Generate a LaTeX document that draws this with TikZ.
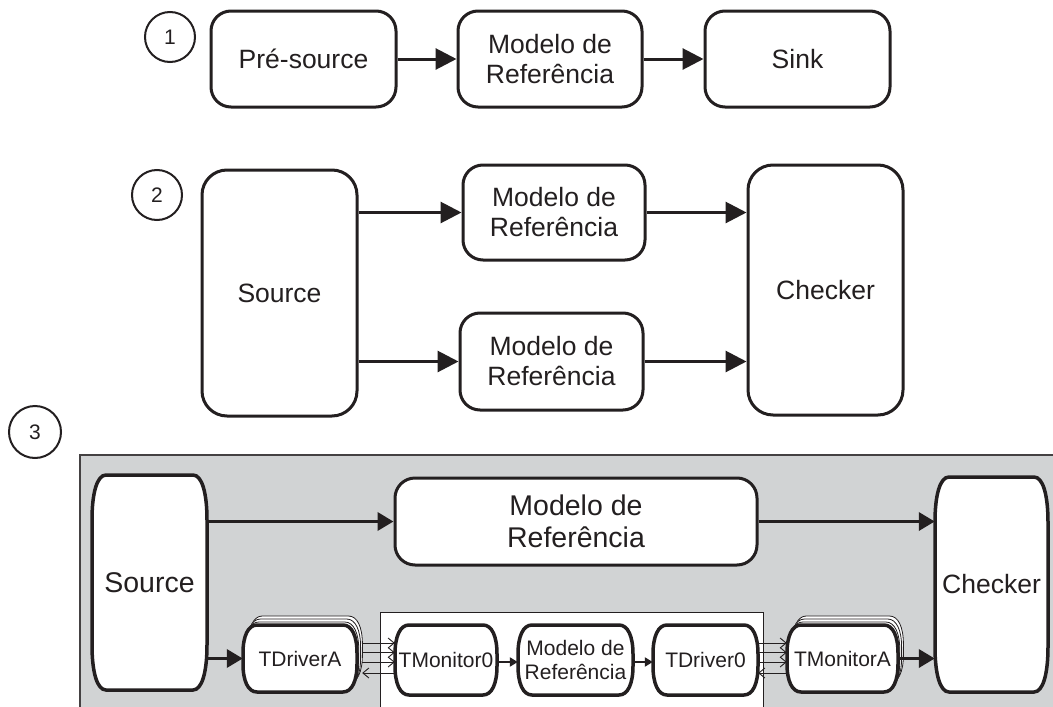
\documentclass[tikz,border=0pt]{standalone}
\usepackage{fontspec}
\setmainfont{Liberation Sans}
\usetikzlibrary{arrows.meta,calc}
\definecolor{ink}{HTML}{231F20}
\definecolor{panel}{HTML}{D1D3D4}

\newcommand\txtL{\fontsize{26.5}{30}\selectfont}
\newcommand\txtXL{\fontsize{28.5}{32}\selectfont}
\newcommand\txtS{\fontsize{21}{24.5}\selectfont}

% barrel outline: style, x0, y0, x1, y1, vertical extent of the curved corners
\newcommand\barrel[6]{%
  \path[#1] (#2+14,#3) -- (#4-14,#3)
    .. controls (#4-5,#3) and (#4,#3+0.4*#6) .. (#4,#3+#6)
    -- (#4,#5-#6)
    .. controls (#4,#5-0.4*#6) and (#4-5,#5) .. (#4-14,#5)
    -- (#2+14,#5)
    .. controls (#2+5,#5) and (#2,#5-0.4*#6) .. (#2,#5-#6)
    -- (#2,#3+#6)
    .. controls (#2,#3+0.4*#6) and (#2+5,#3) .. (#2+14,#3) -- cycle;}

% barrel node: name, x0, y0, x1, y1, corner extent, font, text
\newcommand\barrelnode[8]{%
  \barrel{outline}{#2}{#3}{#4}{#5}{#6}
  \node[inner sep=0, text=ink, align=center, font=#7,
        minimum width=#4-#2, minimum height=#5-#3]
    (#1) at ({(#2+#4)/2},{(#3+#5)/2}) {#8};}

\tikzset{
  outline/.style={draw=ink, line width=3.5pt, fill=white},
  stack/.style={draw=ink, line width=0.8pt, fill=white},
  rbox/.style={draw=ink, line width=3pt, fill=white, rounded corners=20pt,
               inner sep=0, text=ink, align=center, font=\txtL},
  num/.style={circle, draw=ink, line width=2pt, minimum size=50pt, inner sep=0,
              text=ink, font=\txtS},
  flow/.style={draw=ink, line width=3pt, -{Triangle[length=21pt,width=21pt]}},
  flowb/.style={draw=ink, line width=3.5pt, -{Triangle[length=16pt,width=18pt]}},
  flows/.style={draw=ink, line width=2pt, -{Triangle[length=8pt,width=9pt]}},
  bus/.style={draw=ink, line width=0.9pt, -{Straight Barb[length=6pt,width=10pt]}},
}

\begin{document}
\begin{tikzpicture}[x=1pt,y=-1pt]
\useasboundingbox (0,0) rectangle (1053,707);

% ---------- 1: pre-source, reference model, sink ----------
\node[num] (n1) at (170,37) {1};
\node[rbox, minimum width=185, minimum height=96] (pre)  at (303.5,59) {Pré-source};
\node[rbox, minimum width=184, minimum height=96] (mod1) at (550,59)   {Modelo de\\Referência};
\node[rbox, minimum width=185, minimum height=96] (sink) at (797.5,59) {Sink};
\draw[flow] (pre) -- (mod1);
\draw[flow] (mod1) -- (sink);

% ---------- 2: source, two reference models, checker ----------
\node[num] (n2) at (157,195) {2};
\node[rbox, rounded corners=25pt, minimum width=155, minimum height=246] (src2) at (279.5,293) {Source};
\node[rbox, minimum width=182, minimum height=95] (modA) at (554,212.5) {Modelo de\\Referência};
\node[rbox, minimum width=183, minimum height=97] (modB) at (551.5,361.5) {Modelo de\\Referência};
\node[rbox, rounded corners=25pt, minimum width=155, minimum height=250] (chk2) at (825.5,290) {Checker};
\draw[flow] (src2.east |- modA.west) -- (modA.west);
\draw[flow] (src2.east |- modB.west) -- (modB.west);
\draw[flow] (modA.east) -- (chk2.west |- modA.east);
\draw[flow] (modB.east) -- (chk2.west |- modB.east);

% ---------- 3: testbench with translators ----------
\node[num, minimum size=52pt] (n3) at (35,432) {3};

% grey testbench area and white inner region
\fill[panel] (80,455) rectangle (1053,707);
\draw[ink!85, line width=1.5pt] (80,707) -- (80,455) -- (1053,455);
\fill[white] (380,612) rectangle (763,707);
\draw[ink, line width=1pt] (380,707) -- (380,612) -- (763,612) -- (763,707);

% bus lines between translators
\coordinate (b1) at (0,643);
\coordinate (b2) at (0,652.5);
\coordinate (b3) at (0,662);
\coordinate (b4) at (0,673);

\barrelnode{src3}{92}{475}{207}{690}{45}{\txtXL}{Source}
\node[rbox, font=\txtXL, minimum width=362, minimum height=87] (mod3) at (576,521.5) {Modelo de\\Referência};
\barrelnode{chk3}{935}{477}{1048}{692}{45}{\txtL}{Checker}

% stacked driver (several instances)
\foreach \k in {3,2,1}{\barrel{stack}{243+1.8*\k}{625-3*\k}{357+1.8*\k}{692-3*\k}{28}}
\barrelnode{da}{243}{625}{357}{692}{28}{\txtS}{TDriverA}

\barrelnode{m0}{395}{625}{497}{695}{29}{\txtS}{TMonitor0}
\barrelnode{ms}{518}{625}{633}{695}{29}{\txtS}{Modelo de\\Referência}
\barrelnode{d0}{653}{625}{758}{695}{29}{\txtS}{TDriver0}

% stacked monitor (several instances)
\foreach \k in {3,2,1}{\barrel{stack}{787+1.8*\k}{625-3*\k}{898+1.8*\k}{692-3*\k}{28}}
\barrelnode{ma}{787}{625}{898}{692}{28}{\txtS}{TMonitorA}

% connectors
\draw[flowb] (src3.east |- mod3.west) -- (mod3.west);
\draw[flowb] (mod3.east) -- (chk3.west |- mod3.east);
\draw[flowb] (src3.east |- da.west) -- (da.west);
\draw[flowb] (ma.east) -- (chk3.west |- ma.east);
\draw[flows] (m0.east |- b3) -- (ms.west |- b3);
\draw[flows] (ms.east |- b3) -- (d0.west |- b3);

\foreach \b in {b1,b2,b3}{
  \draw[bus] ([xshift=5pt]da.east |- \b) -- (m0.west |- \b);
  \draw[bus] (d0.east |- \b) -- (ma.west |- \b);
}
\draw[bus] (m0.west |- b4) -- ([xshift=5pt]da.east |- b4);
\draw[bus] (ma.west |- b4) -- (d0.east |- b4);
\end{tikzpicture}
\end{document}
